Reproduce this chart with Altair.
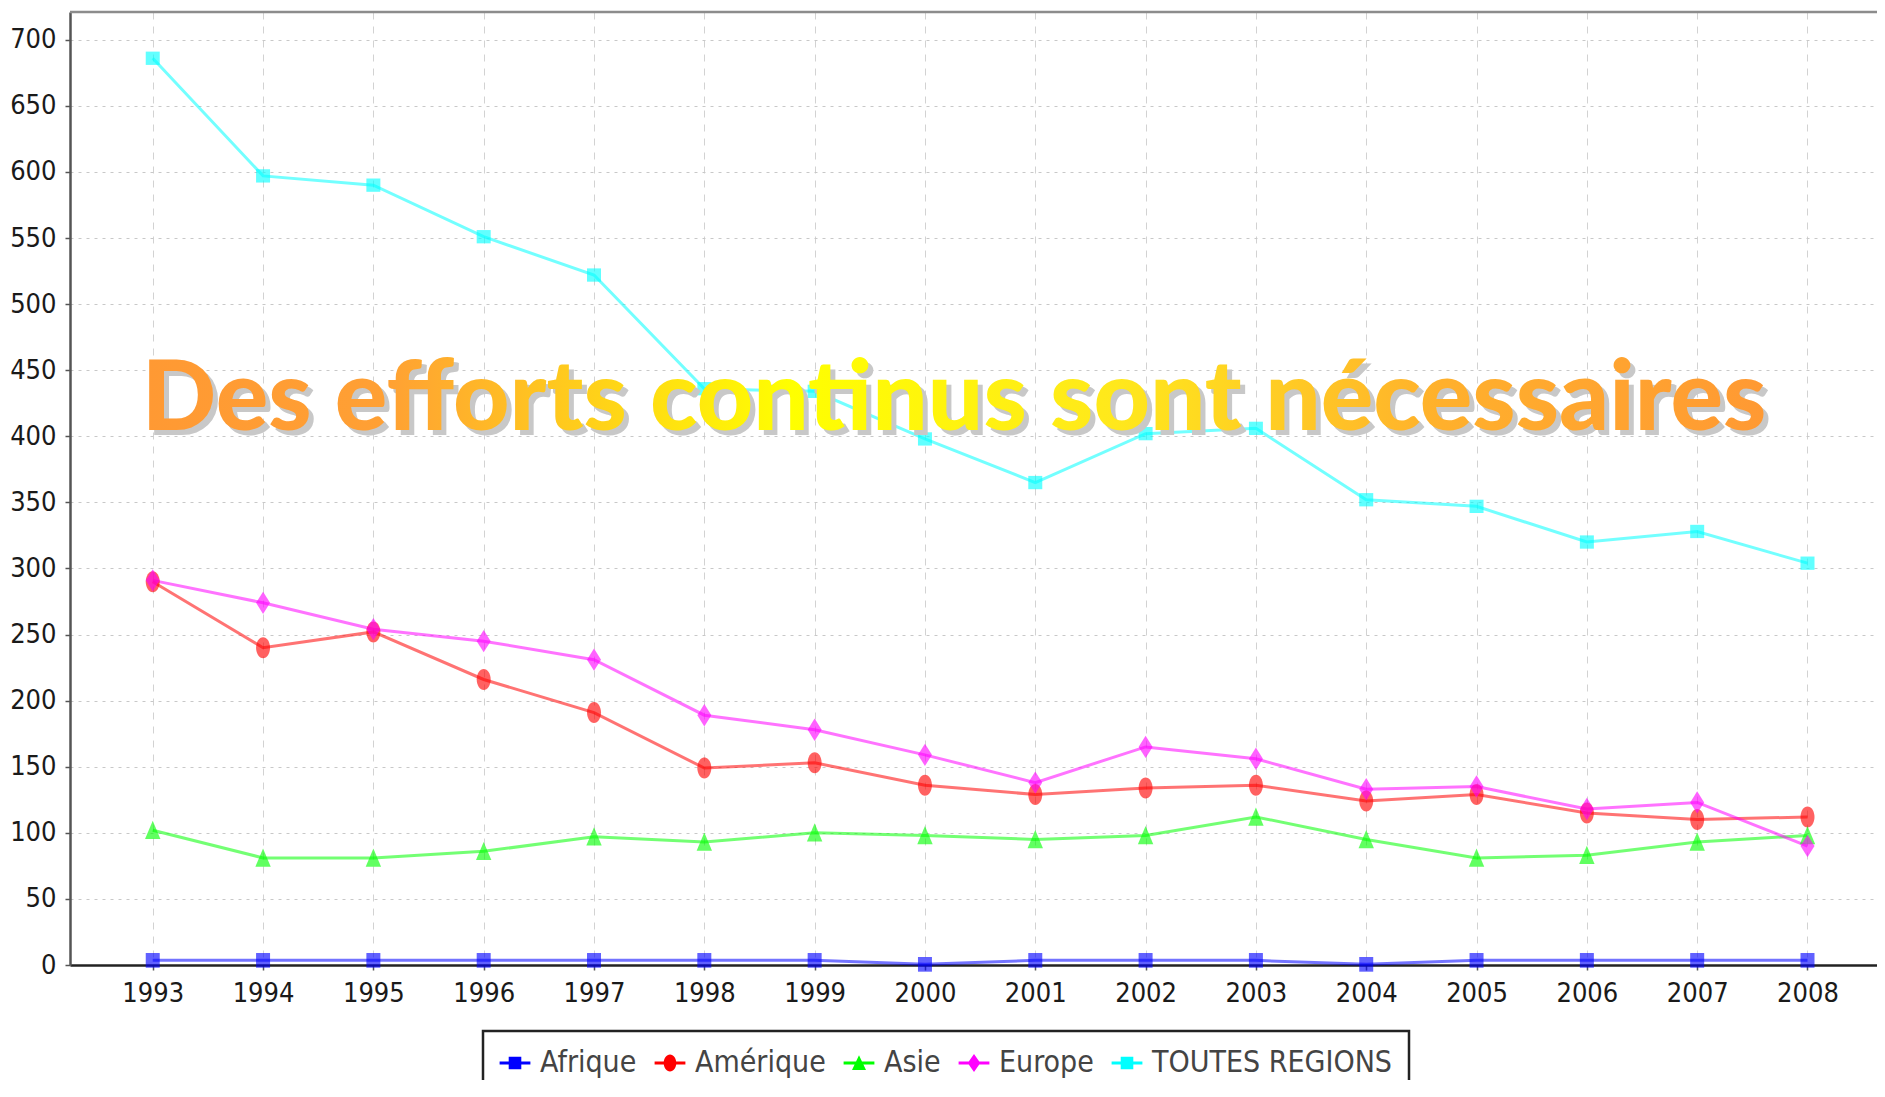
import altair as alt
import pandas as pd

# ---------------- data ----------------
YEARS = [1993, 1994, 1995, 1996, 1997, 1998, 1999, 2000,
         2001, 2002, 2003, 2004, 2005, 2006, 2007, 2008]
SERIES = ["Afrique", "Amérique", "Asie", "Europe", "TOUTES REGIONS"]
AFRIQUE = [3.5, 3.5, 3.5, 3.5, 3.5, 3.5, 3.5, 0.5, 3.5, 3.5, 3.5, 0.5, 3.5, 3.5, 3.5, 3.5]
AMERIQUE = [290, 240, 252, 216, 191, 149, 153, 136, 129, 134, 136, 124, 129, 115, 110, 112]
ASIE = [102, 81, 81, 86, 97, 93, 100, 98, 95, 98, 112, 95, 81, 83, 93, 98]
EUROPE = [291, 274, 254, 245, 231, 189, 178, 159, 138, 165, 156, 133, 135, 118, 123, 90]
TOUTES_REGIONS = [686, 597, 590, 551, 522, 436, 434, 398, 365, 402, 406, 352, 347, 320, 328, 304]
Y_TICKS = [0, 50, 100, 150, 200, 250, 300, 350, 400, 450, 500, 550, 600, 650, 700]
Y_MAX = 721
TITLE = ["Des efforts continus sont nécessaires"]

# ---------------- styles ----------------
COLORS = ["#0000ff", "#ff0000", "#00ff00", "#ff00ff", "#00ffff"]
MARKERS = [
    "M-1,-1.05H1V1.05H-1Z",
    "M0,-1.5C0.55,-1.5,1,-0.83,1,0C1,0.83,0.55,1.5,0,1.5C-0.55,1.5,-1,0.83,-1,0C-1,-0.83,-0.55,-1.5,0,-1.5Z",
    "M0,-1.35L1.1,1.25L-1.1,1.25Z",
    "M0,-1.6L1,0L0,1.6L-1,0Z",
    "M-1,-0.95H1V0.95H-1Z",
]
LEG = "M-2.2,-0.2H2.2V0.2H-2.2Z "
LEGEND_SHAPES = [
    LEG + "M-0.9,-0.9H0.9V0.9H-0.9Z",
    LEG + "M0,-1.2C0.5,-1.2,0.9,-0.66,0.9,0C0.9,0.66,0.5,1.2,0,1.2C-0.5,1.2,-0.9,0.66,-0.9,0C-0.9,-0.66,-0.5,-1.2,0,-1.2Z",
    LEG + "M0,-1.1L1,1L-1,1Z",
    LEG + "M0,-1.3L0.9,0L0,1.3L-0.9,0Z",
    LEG + "M-0.9,-0.9H0.9V0.9H-0.9Z",
]
LF = "DejaVu Sans Condensed, DejaVu Sans, sans-serif"
TF = "Lato, DejaVu Sans Condensed, sans-serif"

rows = []
for name, vals in zip(SERIES, [AFRIQUE, AMERIQUE, ASIE, EUROPE, TOUTES_REGIONS]):
    for yr, v in zip(YEARS, vals):
        rows.append({"annee": yr, "valeur": v, "region": name})
df = pd.DataFrame(rows)
title_df = pd.DataFrame({"t": TITLE})

xscale = alt.Scale(domain=[1992.25, 2008.63], nice=False, zero=False)
yscale = alt.Scale(domain=[0, Y_MAX], nice=False, zero=False)

XAX = alt.Axis(orient="bottom", values=YEARS, format="d", title=None,
               grid=True, gridDash=[7, 7], gridColor="#d2d2d2", gridWidth=1,
               domainColor="#222222", domainWidth=2.5,
               tickColor="#555555", tickSize=5, tickWidth=1.5,
               labelFont=LF, labelFontSize=27, labelPadding=10,
               labelColor="#1a1a1a")
YAX = alt.Axis(orient="left", values=Y_TICKS, title=None, grid=True, gridDash=[3, 5],
               gridColor="#c8c8c8", gridWidth=1,
               domainColor="#555555", domainWidth=2.5,
               tickColor="#555555", tickSize=5, tickWidth=1.5,
               labelFont=LF, labelFontSize=27, labelPadding=9,
               labelColor="#1a1a1a")

X_ENC = alt.X("annee:Q", scale=xscale, axis=XAX)
Y_ENC = alt.Y("valeur:Q", scale=yscale, axis=YAX)

base = alt.Chart(df)

# top frame line of the plot area, at the top of the y domain
top_frame = alt.Chart(title_df).mark_rule(color="#8c8c8c", strokeWidth=2.5).encode(
    y=alt.Y(datum=Y_MAX, scale=yscale, axis=YAX)
)

lines = base.mark_line(strokeWidth=3, opacity=0.55).encode(
    x=X_ENC, y=Y_ENC,
    color=alt.Color("region:N", scale=alt.Scale(domain=SERIES, range=COLORS), legend=None),
)

markers = base.mark_point(filled=True, size=196, opacity=0.62, strokeWidth=0).encode(
    x=X_ENC, y=Y_ENC,
    color=alt.Color("region:N", scale=alt.Scale(domain=SERIES, range=COLORS), legend=None),
    shape=alt.Shape("region:N", scale=alt.Scale(domain=SERIES, range=MARKERS), legend=None),
)

leg = alt.Legend(title=None, orient="none", legendX=413, legendY=1019,
                 direction="horizontal", columns=5, columnPadding=17,
                 labelOffset=10, padding=17, strokeColor="#222222",
                 symbolOpacity=1, symbolSize=196, symbolStrokeWidth=0,
                 labelFont=LF, labelFontSize=30, labelColor="#444444",
                 labelLimit=600)

legend_layer = base.mark_point(filled=True, size=196, opacity=0).encode(
    x=X_ENC, y=Y_ENC,
    color=alt.Color("region:N", scale=alt.Scale(domain=SERIES, range=COLORS), legend=leg),
    shape=alt.Shape("region:N", scale=alt.Scale(domain=SERIES, range=LEGEND_SHAPES), legend=leg),
)

TSIZE = 98
TX = 884
TY = 418

shadow = alt.Chart(title_df).mark_text(
    font=TF, fontSize=TSIZE, fontWeight=900, fill="#c8c8c8",
    align="center", baseline="alphabetic", dx=5, dy=5,
).encode(x=alt.value(TX), y=alt.value(TY), text="t:N")

h_grad = {"gradient": "linear", "x1": 0, "y1": 0, "x2": 1, "y2": 0,
          "stops": [{"offset": 0, "color": "#ff9933"},
                    {"offset": 0.15, "color": "#ffa034"},
                    {"offset": 0.4, "color": "#ffff00"},
                    {"offset": 0.6, "color": "#ffe81c"},
                    {"offset": 0.8, "color": "#ffb02c"},
                    {"offset": 1, "color": "#ff9933"}]}

main_title = alt.Chart(title_df).mark_text(
    font=TF, fontSize=TSIZE, fontWeight=900, fill=h_grad,
    align="center", baseline="alphabetic",
).encode(x=alt.value(TX), y=alt.value(TY), text="t:N")

chart = alt.layer(top_frame, lines, markers, legend_layer, shadow, main_title).resolve_scale(
    color="independent", shape="independent"
).properties(
    width=1807, height=953,
    padding={"left": 62, "top": 4, "right": 0, "bottom": 115},
    autosize=alt.AutoSizeParams(type="none"),
    background="white",
).configure_view(stroke=None).configure_legend(strokeWidth=2.5)

chart.save("out.html", embed_options={"renderer": "svg", "actions": False})
